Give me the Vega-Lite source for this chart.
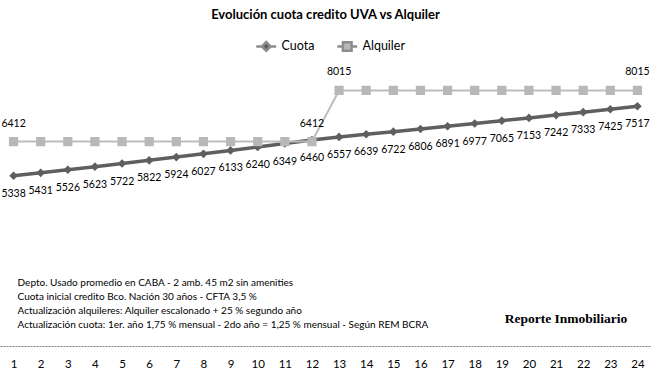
{
  "$schema": "https://vega.github.io/schema/vega-lite/v6.json",
  "width": 651,
  "height": 287,
  "autosize": "none",
  "padding": {"left": 0, "top": 59, "right": 6, "bottom": 31},
  "background": "white",
  "title": {"text": "Evolución cuota credito UVA vs Alquiler", "font": "Lato", "fontSize": 13, "fontWeight": "bold", "color": "#000000", "anchor": "middle", "offset": 18},
  "config": {"view": {"stroke": null}},
  "datasets": {
    "serie": [
      {"mes": 1, "serie": "Cuota", "valor": 5338},
      {"mes": 2, "serie": "Cuota", "valor": 5431},
      {"mes": 3, "serie": "Cuota", "valor": 5526},
      {"mes": 4, "serie": "Cuota", "valor": 5623},
      {"mes": 5, "serie": "Cuota", "valor": 5722},
      {"mes": 6, "serie": "Cuota", "valor": 5822},
      {"mes": 7, "serie": "Cuota", "valor": 5924},
      {"mes": 8, "serie": "Cuota", "valor": 6027},
      {"mes": 9, "serie": "Cuota", "valor": 6133},
      {"mes": 10, "serie": "Cuota", "valor": 6240},
      {"mes": 11, "serie": "Cuota", "valor": 6349},
      {"mes": 12, "serie": "Cuota", "valor": 6460},
      {"mes": 13, "serie": "Cuota", "valor": 6557},
      {"mes": 14, "serie": "Cuota", "valor": 6639},
      {"mes": 15, "serie": "Cuota", "valor": 6722},
      {"mes": 16, "serie": "Cuota", "valor": 6806},
      {"mes": 17, "serie": "Cuota", "valor": 6891},
      {"mes": 18, "serie": "Cuota", "valor": 6977},
      {"mes": 19, "serie": "Cuota", "valor": 7065},
      {"mes": 20, "serie": "Cuota", "valor": 7153},
      {"mes": 21, "serie": "Cuota", "valor": 7242},
      {"mes": 22, "serie": "Cuota", "valor": 7333},
      {"mes": 23, "serie": "Cuota", "valor": 7425},
      {"mes": 24, "serie": "Cuota", "valor": 7517},
      {"mes": 1, "serie": "Alquiler", "valor": 6412},
      {"mes": 2, "serie": "Alquiler", "valor": 6412},
      {"mes": 3, "serie": "Alquiler", "valor": 6412},
      {"mes": 4, "serie": "Alquiler", "valor": 6412},
      {"mes": 5, "serie": "Alquiler", "valor": 6412},
      {"mes": 6, "serie": "Alquiler", "valor": 6412},
      {"mes": 7, "serie": "Alquiler", "valor": 6412},
      {"mes": 8, "serie": "Alquiler", "valor": 6412},
      {"mes": 9, "serie": "Alquiler", "valor": 6412},
      {"mes": 10, "serie": "Alquiler", "valor": 6412},
      {"mes": 11, "serie": "Alquiler", "valor": 6412},
      {"mes": 12, "serie": "Alquiler", "valor": 6412},
      {"mes": 13, "serie": "Alquiler", "valor": 8015},
      {"mes": 14, "serie": "Alquiler", "valor": 8015},
      {"mes": 15, "serie": "Alquiler", "valor": 8015},
      {"mes": 16, "serie": "Alquiler", "valor": 8015},
      {"mes": 17, "serie": "Alquiler", "valor": 8015},
      {"mes": 18, "serie": "Alquiler", "valor": 8015},
      {"mes": 19, "serie": "Alquiler", "valor": 8015},
      {"mes": 20, "serie": "Alquiler", "valor": 8015},
      {"mes": 21, "serie": "Alquiler", "valor": 8015},
      {"mes": 22, "serie": "Alquiler", "valor": 8015},
      {"mes": 23, "serie": "Alquiler", "valor": 8015},
      {"mes": 24, "serie": "Alquiler", "valor": 8015}
    ],
    "notas": [
      {"nota": "Depto. Usado promedio en CABA - 2 amb. 45 m2 sin amenities\nCuota inicial credito Bco. Nación 30 años - CFTA 3,5 %\nActualización alquileres: Alquiler escalonado + 25 % segundo año\nActualización cuota:  1er. año 1,75 % mensual - 2do año = 1,25 % mensual - Según REM BCRA"}
    ],
    "marca": [
      {"marca": "Reporte Inmobiliario"}
    ]
  },
  "layer": [
    {
      "data": {"name": "serie"},
      "encoding": {
        "x": {"field": "mes", "type": "ordinal", "scale": {"type": "point", "padding": 0.5},
          "axis": {"title": null, "labelAngle": 0, "ticks": false, "grid": false, "domainDash": [2, 1], "domainColor": "#7f7f7f", "domainWidth": 1, "labelPadding": 12, "labelFont": "Lato", "labelFontSize": 11.5, "labelColor": "#000000"}},
        "y": {"field": "valor", "type": "quantitative", "scale": {"domain": [0, 9000]}, "axis": null}
      },
      "layer": [
        {
          "transform": [{"filter": "datum.serie === 'Cuota'"}],
          "mark": {"type": "line", "strokeWidth": 3.5, "color": "#5F5F5F"}
        },
        {
          "transform": [{"filter": "datum.serie === 'Cuota'"}],
          "mark": {"type": "point", "filled": true, "opacity": 1, "size": 75},
          "encoding": {
            "color": {"field": "serie", "type": "nominal", "scale": {"domain": ["Cuota", "Alquiler"], "range": ["#5F5F5F", "#B8B8B8"]},
              "legend": {"title": null, "orient": "none", "legendX": 260, "legendY": -19, "direction": "horizontal", "labelFont": "Lato", "labelFontSize": 12.5, "labelColor": "#000000", "symbolSize": 75, "columnPadding": 17, "labelOffset": 9, "symbolStrokeColor": "#8c8c8c", "symbolStrokeWidth": 2.5,
                "encode": {"symbols": {"update": {"stroke": {"signal": "scale('color', datum.value)"}, "strokeWidth": {"value": 2.5}}}}}},
            "shape": {"field": "serie", "type": "nominal", "scale": {"domain": ["Cuota", "Alquiler"], "range": ["M-2.3,0L-1,0M1,0L2.3,0M-1,0L0,-1L1,0L0,1Z", "M-2.3,0L-1,0M1,0L2.3,0M-1,-1L1,-1L1,1L-1,1Z"]}, "legend": null}
          }
        },
        {
          "transform": [{"filter": "datum.serie === 'Alquiler'"}],
          "mark": {"type": "line", "strokeWidth": 2, "color": "#BDBDBD"}
        },
        {
          "transform": [{"filter": "datum.serie === 'Alquiler'"}],
          "mark": {"type": "point", "filled": true, "opacity": 1, "size": 85},
          "encoding": {
            "color": {"field": "serie", "type": "nominal"},
            "shape": {"field": "serie", "type": "nominal"}
          }
        },
        {
          "transform": [{"filter": "datum.serie === 'Cuota'"}],
          "mark": {"type": "text", "dy": 18, "font": "Lato", "fontSize": 10.5, "color": "#000000"},
          "encoding": {"text": {"field": "valor", "type": "quantitative", "format": "d"}}
        },
        {
          "transform": [{"filter": "datum.serie === 'Alquiler'"}, {"filter": {"field": "mes", "oneOf": [1, 12, 13, 24]}}],
          "mark": {"type": "text", "dy": -18, "font": "Lato", "fontSize": 10.5, "color": "#000000"},
          "encoding": {"text": {"field": "valor", "type": "quantitative", "format": "d"}}
        }
      ]
    },
    {
      "data": {"name": "notas"},
      "mark": {"type": "text", "align": "left", "baseline": "middle", "dx": 4, "font": "Lato", "fontSize": 10, "lineHeight": 14.2, "lineBreak": "\n", "color": "#000000"},
      "encoding": {"x": {"datum": 1, "type": "ordinal"}, "y": {"datum": 1990, "type": "quantitative"}, "text": {"field": "nota", "type": "nominal"}}
    },
    {
      "data": {"name": "marca"},
      "mark": {"type": "text", "align": "center", "baseline": "middle", "dx": 10, "font": "Liberation Serif", "fontWeight": "bold", "fontSize": 13.5, "color": "#000000"},
      "encoding": {"x": {"datum": 21, "type": "ordinal"}, "y": {"datum": 850, "type": "quantitative"}, "text": {"field": "marca", "type": "nominal"}}
    }
  ]
}
